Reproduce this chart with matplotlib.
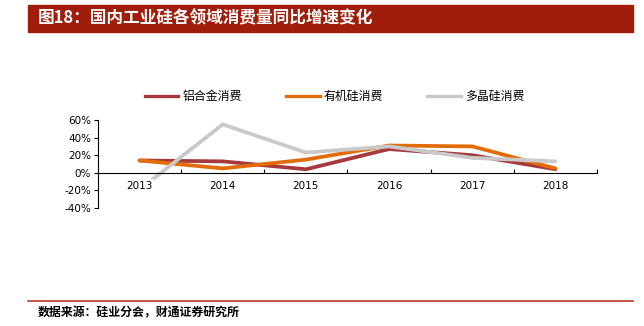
import numpy as np
import matplotlib.pyplot as plt
from matplotlib.lines import Line2D

plt.rcParams['font.family'] = ['Noto Sans CJK SC', 'DejaVu Sans']
plt.rcParams['axes.unicode_minus'] = False

# yearly growth (%) of domestic industrial silicon consumption by segment
years = ['2013', '2014', '2015', '2016', '2017', '2018']
aluminium = [14, 13, 4, 27, 20, 4]
silicone = [14, 5, 15, 31, 30, 5]
polysilicon = [-19, 55, 23, 30, 17, 13]

series_names = ['铝合金消费', '有机硅消费', '多晶硅消费']
colors = ['#A5393B', '#E36C09', '#C9C9C9']

W, H = 644, 326
fig = plt.figure(figsize=(W / 100, H / 100), dpi=100)

# title bar
fig.patches.append(plt.Rectangle((28 / W, 1 - 32 / H), 605 / W, 27 / H,
                                 transform=fig.transFigure, color='#A01D0B', zorder=0))
fig.text(38 / W, 1 - 18.5 / H, '图18：国内工业硅各领域消费量同比增速变化',
         color='white', fontsize=12, fontweight='bold', va='center', ha='left')

# footer rule and source
fig.add_artist(Line2D([28 / W, 633 / W], [1 - 301 / H, 1 - 301 / H],
                      transform=fig.transFigure, color='#B83A1E', lw=1.2))
fig.text(38 / W, 1 - 313 / H, '数据来源：硅业分会，财通证券研究所',
         fontsize=8.6, fontweight='bold', va='center', ha='left')

ax = fig.add_axes([98 / W, 1 - 208 / H, 499 / W, 88 / H])
x = np.arange(len(years))
for vals, name, c in zip([aluminium, silicone, polysilicon], series_names, colors):
    ax.plot(x, vals, color=c, lw=2.7, label=name, solid_capstyle='round',
            solid_joinstyle='miter', zorder=2)

ax.set_xlim(-0.5, 5.5)
ax.set_ylim(-40, 60)
ax.set_yticks([-40, -20, 0, 20, 40, 60])
ax.set_yticklabels(['-40%', '-20%', '0%', '20%', '40%', '60%'], fontsize=7.5,
                   family='DejaVu Sans')
ax.tick_params(axis='y', length=3, width=0.8, pad=2)

for s in ['top', 'right']:
    ax.spines[s].set_visible(False)
ax.spines['bottom'].set_position(('data', 0))
ax.spines['left'].set_linewidth(0.8)
ax.spines['bottom'].set_linewidth(0.8)

# tick marks between categories, year labels under the zero line
ax.set_xticks(np.arange(0.5, 6, 1))
ax.set_xticklabels([])
ax.tick_params(axis='x', which='major', direction='in', length=3, width=0.8)
for i, yr in enumerate(years):
    ax.annotate(yr, (i, 0), xytext=(0, -6), textcoords='offset points',
                ha='center', va='top', fontsize=7.5, family='DejaVu Sans',
                bbox=dict(facecolor='white', edgecolor='none', pad=1.2),
                zorder=5, annotation_clip=False)

handles = [Line2D([], [], color=c, lw=2.4) for c in colors]
ax.legend(handles, series_names, loc='center left', bbox_to_anchor=(47 / 499, 1.27),
          ncol=3, frameon=False, fontsize=8.6, handlelength=2.8,
          columnspacing=3.7, handletextpad=0.35, borderaxespad=0, borderpad=0)

plt.savefig('out.png', dpi=100)
